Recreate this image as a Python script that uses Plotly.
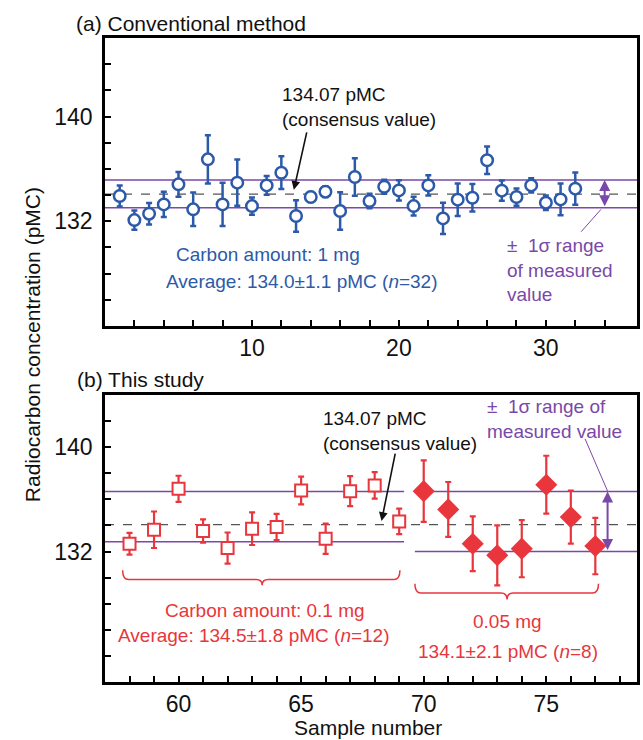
import plotly.graph_objects as go

# ---------------- data ----------------
# (a) Conventional method, 1 mg carbon
conv_samples = list(range(1, 33))
conv_pmc = [133.93, 132.09, 132.58, 133.29, 134.82, 132.91, 136.73, 133.29,
            134.95, 133.16, 134.74, 135.71, 132.40, 133.85, 134.26, 132.78,
            135.38, 133.55, 134.64, 134.36, 133.16, 134.74, 132.22, 133.65,
            133.80, 136.66, 134.34, 133.85, 134.74, 133.42, 133.67, 134.49]
conv_err = [0.80, 0.74, 0.82, 0.96, 0.94, 1.28, 1.85, 1.66, 1.76, 0.66, 0.71,
            1.25, 1.21, 0.38, 0.41, 1.43, 1.43, 0.56, 0.54, 0.77, 0.71, 0.77,
            1.19, 1.24, 1.05, 1.05, 0.77, 0.66, 0.54, 0.55, 1.21, 1.23]

# (b) This study, 0.1 mg carbon
s01_samples = list(range(58, 70))
s01_pmc = [132.60, 133.67, 136.81, 133.57, 132.27, 133.75, 133.88, 136.68,
           132.98, 136.63, 137.07, 134.31]
s01_err = [0.83, 1.40, 1.00, 0.89, 1.19, 1.25, 1.00, 1.06, 1.16, 1.15, 1.02, 0.98]

# (b) This study, 0.05 mg carbon
s005_samples = list(range(70, 78))
s005_pmc = [136.63, 135.23, 132.60, 131.71, 132.22, 137.12, 134.64, 132.42]
s005_err = [2.35, 2.10, 2.10, 2.30, 2.19, 2.22, 2.03, 2.16]

consensus = 134.07
band_conv = [133.03, 135.15]
band_01 = [132.75, 136.60]
band_005 = [132.00, 136.60]

top_xticks = list(range(2, 36, 2))
top_xtext = [str(v) if v % 10 == 0 else "" for v in top_xticks]
top_yticks = list(range(126, 146, 2))
bot_xticks = list(range(58, 79))
bot_xtext = [str(v) if v % 5 == 0 else "" for v in bot_xticks]
bot_yticks = list(range(124, 144, 2))
ytext_labels = {140: "140", 132: "132"}

# ---------------- style ----------------
BLUE = "#2c5aa8"
RED = "#e8363c"
PURPLE = "#7a48a8"
DASH = "#555555"
FONT = "Liberation Sans, Arial, sans-serif"

TOP_X = [0, 36.2]
BOT_X = [57, 78.7]

fig = go.Figure()

def hline(x0, x1, y, color, width, dash, xa, ya):
    fig.add_trace(go.Scatter(x=[x0, x1], y=[y, y], mode="lines",
                             line=dict(color=color, width=width, dash=dash),
                             xaxis=xa, yaxis=ya, hoverinfo="skip", showlegend=False))

# top panel reference lines
for b in band_conv:
    hline(TOP_X[0], TOP_X[1], b, PURPLE, 1.6, "solid", "x", "y")
hline(TOP_X[0], TOP_X[1], consensus, DASH, 1.3, "dash", "x", "y")
# bottom panel reference lines
for b in band_01:
    hline(BOT_X[0], 69.2, b, PURPLE, 1.6, "solid", "x2", "y2")
for b in band_005:
    hline(69.64, BOT_X[1], b, PURPLE, 1.6, "solid", "x2", "y2")
hline(BOT_X[0], BOT_X[1], consensus, DASH, 1.3, "dash", "x2", "y2")

fig.add_trace(go.Scatter(
    x=conv_samples, y=conv_pmc, mode="markers",
    error_y=dict(type="data", array=conv_err, color=BLUE, thickness=2.5, width=3),
    marker=dict(symbol="circle", size=11.5, color="white", line=dict(color=BLUE, width=2.5)),
    xaxis="x", yaxis="y", showlegend=False))

fig.add_trace(go.Scatter(
    x=s01_samples, y=s01_pmc, mode="markers",
    error_y=dict(type="data", array=s01_err, color=RED, thickness=2.2, width=3),
    marker=dict(symbol="square", size=12, color="white", line=dict(color=RED, width=2)),
    xaxis="x2", yaxis="y2", showlegend=False))

fig.add_trace(go.Scatter(
    x=s005_samples, y=s005_pmc, mode="markers",
    error_y=dict(type="data", array=s005_err, color=RED, thickness=2.2, width=3),
    marker=dict(symbol="diamond", size=17, color=RED, line=dict(color=RED, width=0)),
    xaxis="x2", yaxis="y2", showlegend=False))

axis_common = dict(showline=True, linecolor="black", linewidth=2.5, mirror=True,
                   ticks="inside", ticklen=6, tickwidth=1.5, tickcolor="black",
                   showgrid=False, zeroline=False,
                   tickfont=dict(family=FONT, size=23, color="#111"))

fig.update_layout(
    width=643, height=740,
    margin=dict(l=105, r=3, t=38, b=58),
    paper_bgcolor="white", plot_bgcolor="white",
    font=dict(family=FONT, color="#111"),
    xaxis=dict(domain=[0, 1], range=TOP_X, anchor="y",
               tickmode="array", tickvals=top_xticks, ticktext=top_xtext, **axis_common),
    yaxis=dict(domain=[0.5528, 1], range=[124, 146], anchor="x",
               tickmode="array", tickvals=top_yticks,
               ticktext=[ytext_labels.get(v, "") for v in top_yticks],
               ticklabelstandoff=5, **axis_common),
    xaxis2=dict(domain=[0, 1], range=BOT_X, anchor="y2",
                tickmode="array", tickvals=bot_xticks, ticktext=bot_xtext, **axis_common),
    yaxis2=dict(domain=[0, 0.4457], range=[122, 144], anchor="x2",
                tickmode="array", tickvals=bot_yticks,
                ticktext=[ytext_labels.get(v, "") for v in bot_yticks],
                ticklabelstandoff=5, **axis_common),
)

ann = []
def txt(x, y, text, color, size=19, xref="x", yref="y", xanchor="center", align="center", **kw):
    ann.append(dict(x=x, y=y, xref=xref, yref=yref, text=text, showarrow=False,
                    xanchor=xanchor, yanchor=kw.pop("yanchor", "middle"), align=align,
                    font=dict(family=FONT, size=size, color=color), **kw))

# titles
txt(-0.058, 1.0228, "(a) Conventional method", "#111", 21, "paper", "paper", "left")
txt(-0.056, 0.469, "(b) This study", "#111", 21, "paper", "paper", "left")
txt(-0.136, 0.524, "Radiocarbon concentration (pMC)", "#111", 21, "paper", "paper",
    "center", textangle=-90)
txt(0.495, -0.0705, "Sample number", "#111", 21, "paper", "paper")

# top panel annotations
txt(11.94, 140.71, "134.07 pMC<br>(consensus value)", "#111", 19, "x", "y", "left", "left")
txt(11.07, 129.46, "Carbon amount: 1 mg", BLUE, 19, "x", "y")
txt(13.41, 127.42, "Average: 134.0±1.1 pMC (<i>n</i>=32)", BLUE, 19, "x", "y")
txt(27.24, 128.24, "±  1σ range<br>of measured<br>value", PURPLE, 19, "x", "y", "left", "left")

# bottom panel annotations
txt(65.81, 141.21, "134.07 pMC<br>(consensus value)", "#111", 19, "x2", "y2", "left", "left")
txt(72.49, 142.17, "±  1σ range of<br>measured value", PURPLE, 19, "x2", "y2", "left", "left")
txt(63.51, 127.5, "Carbon amount: 0.1 mg", RED, 19, "x2", "y2")
txt(63.07, 125.54, "Average: 134.5±1.8 pMC (<i>n</i>=12)", RED, 19, "x2", "y2")
txt(73.42, 126.61, "0.05 mg", RED, 19, "x2", "y2")
txt(73.42, 124.36, "134.1±2.1 pMC (<i>n</i>=8)", RED, 19, "x2", "y2")

# arrows
def arrow(x, y, ax, ay, xref, yref, color, both=False, width=1.6):
    d = dict(x=x, y=y, ax=ax, ay=ay, xref=xref, yref=yref, axref=xref, ayref=yref,
             text="", showarrow=True, arrowhead=2, arrowsize=1.1, arrowwidth=width,
             arrowcolor=color)
    if both:
        d.update(arrowside="end+start", startarrowhead=2, startarrowsize=1.1)
    ann.append(d)

arrow(12.85, 134.4, 13.75, 138.9, "x", "y", "#111")
arrow(68.28, 134.34, 68.85, 139.62, "x2", "y2", "#111")
arrow(34, band_conv[1], 34, band_conv[0], "x", "y", PURPLE, both=True, width=2)
arrow(77.5, band_005[1], 77.5, band_005[0], "x2", "y2", PURPLE, both=True, width=2)

fig.update_layout(annotations=ann)

shapes = [
    dict(type="line", xref="x", yref="y", x0=32.4, y0=131.2, x1=33.75, y1=132.91,
         line=dict(color=PURPLE, width=1)),
    dict(type="line", xref="x2", yref="y2", x0=76.58, y0=140.64, x1=77.5, y1=136.63,
         line=dict(color=PURPLE, width=1)),
]

def brace(x0, x1, xm, ytop, yh, ymid, dx):
    path = (f"M {x0},{ytop} Q {x0},{yh} {x0+dx},{yh} L {xm-dx},{yh} "
            f"Q {xm},{yh} {xm},{ymid} Q {xm},{yh} {xm+dx},{yh} "
            f"L {x1-dx},{yh} Q {x1},{yh} {x1},{ytop}")
    return dict(type="path", xref="x2", yref="y2", path=path,
                line=dict(color=RED, width=1.5))

shapes.append(brace(57.72, 69.03, 63.41, 130.56, 129.85, 129.41, 0.25))
shapes.append(brace(69.64, 77.13, 73.4, 129.54, 128.83, 128.32, 0.25))
fig.update_layout(shapes=shapes)

fig.write_html("out.html", config={"displayModeBar": False})

# remove the default page margin so the 643x740 figure fills the window exactly
with open("out.html", "r", encoding="utf-8") as f:
    html = f.read()
html = html.replace("<head>", "<head><style>html,body{margin:0;padding:0;overflow:hidden}</style>", 1)
with open("out.html", "w", encoding="utf-8") as f:
    f.write(html)
